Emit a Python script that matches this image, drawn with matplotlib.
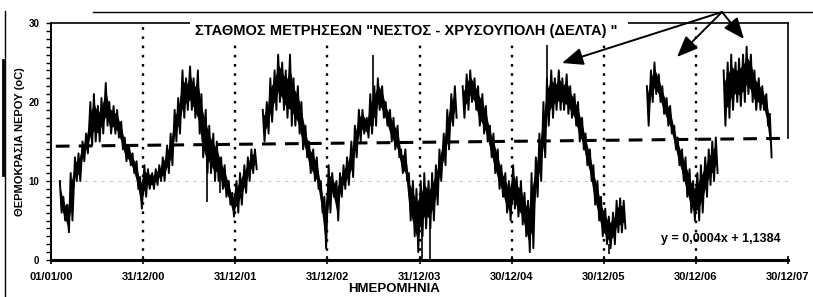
import numpy as np
import pandas as pd
import matplotlib
matplotlib.use("Agg")
import matplotlib.pyplot as plt
from matplotlib.lines import Line2D
from matplotlib.patches import Rectangle

plt.rcParams['font.family'] = ['Liberation Sans', 'DejaVu Sans']
nan = np.nan

# half-monthly (8th / 22nd) low and high of the daily water temperature (oC)
lo_2000 = [nan, nan, 6, 5, 3.5, 5, 10, 10, 12.5, 13.5, 14.5, 15, 15, 16, 17, 16, 16, 15.5, 14, 12.5, 12, 11, 9, 6.5]
hi_2000 = [nan, nan, 10, 8, 7, 11, 13, 13.5, 15, 16, 20, 21, 19.5, 20.5, 22.4, 20, 19.5, 19, 17.5, 15.5, 14.5, 13.5, 12.5, 10.5]
lo_2001 = [8, 9, 9, 9.5, 10, 10, 11, 12, 15, 16, 18, 19, 19, 18, 16, 13, 11, 11, 10, 10, 9, 8, 7, 5.5]
hi_2001 = [12, 11.5, 11, 11.5, 12, 13, 14.5, 16, 19, 20.5, 24, 23, 24.5, 23, 24, 21, 19, 17, 16, 15, 13, 12, 10, 8.5]
lo_2002 = [6, 7, 8.5, 10, 11, 11.5, nan, 15, 16, 17.5, 19, 20, 19, 18, 17, 17, 16, 14, 13, 11, 10, 9, 6, 1.5]
hi_2002 = [10, 11, 12, 13, 14, 14, nan, 19, 20, 23, 24, 26, 25, 24, 26, 23, 22, 20, 17, 15, 14, 13, 10, 8]
lo_2003 = [6, 8, 5, 8, 9, 9.5, 10.5, 13, 15, 16, 15.5, 16, 17, 19, 18, 17, 15, 14, 13, 11, 10, 5, 3, 1]
hi_2003 = [12, 11, 10, 11, 12, 13, 15, 17, 19, 19, 18, 21, 22, 23, 22, 20, 19, 18, 17, 14, 14, 11, 10, 9]
lo_2004 = [3, 4, 4, 5, 7, 10, 12, 14, 17, 18, nan, 18, 19, 20, 19, 17, 16, 15, 13, 11, 9, 8, 6, 5]
hi_2004 = [10, 11, 10, 11, 12, 14, 16, 19, 21, 22, nan, 22, 23.5, 24, 23, 22, 21, 19.5, 17, 16, 14, 12, 11, 10]
lo_2005 = [6.5, 5.5, 4.5, 3, 1, 1.5, 8, 10, 13, 17, 18, 19, 19, 19, 18.5, 18, 17, 15, 14, 12, 10, 7, 5, 3]
hi_2005 = [12, 10.5, 10, 8.5, 7.5, 11, 13, 16, 20, 23, 24, 23, 24, 23, 23.5, 22, 21, 20, 18, 16, 14, 12, 10, 8]
lo_2006 = [2, 1.5, 2, 3.5, 3.5, 4, nan, nan, nan, nan, nan, 17, 20, 21, 20, 18.5, 17, 16, 14, 12, 10, 8, 6, 5]
hi_2006 = [6.5, 5.5, 6, 7.5, 7.8, 7.5, nan, nan, nan, nan, nan, 22, 24, 25, 23.5, 22, 20.5, 19.5, 17, 15.5, 14, 13, 11.5, 10]
lo_2007 = [5, 6, 8, 9.5, 10, 11, nan, 17, 18, 19, 20, 19.5, 20, 21, 20, 19, 19, 19, 17, 13, nan, nan, nan, nan]
hi_2007 = [11, 12, 13, 14, 15, 15.5, nan, 24, 25, 26, 25, 25.5, 26, 27, 26, 24, 23, 22, 21, 18.5, nan, nan, nan, nan]

# isolated spikes of the daily record
spike_dates = ['2001-09-10', '2001-10-30', '2003-07-01', '2004-01-08', '2004-02-10',
               '2005-05-20', '2006-01-20']
spike_base = [15, 12, 17, 5, 5, 20, 2]
spike_tip = [7.4, 8.5, 25.9, 0, 0, 27.2, 0.8]

# linear trend line end points
trend_dates = ['2000-01-20', '2007-12-30']
trend_vals = [14.4, 15.4]

tick_dates = ['2000-01-01', '2000-12-31', '2001-12-31', '2002-12-31', '2003-12-31',
              '2004-12-30', '2005-12-30', '2006-12-30', '2007-12-30']
tick_labels = ['01/01/00', '31/12/00', '31/12/01', '31/12/02', '31/12/03',
               '30/12/04', '30/12/05', '30/12/06', '30/12/07']

title = 'ΣΤΑΘΜΟΣ ΜΕΤΡΗΣΕΩΝ "ΝΕΣΤΟΣ - ΧΡΥΣΟΥΠΟΛΗ (ΔΕΛΤΑ) "'
ylabel = 'ΘΕΡΜΟΚΡΑΣΙΑ ΝΕΡΟΥ (oC)'
xlabel = 'ΗΜΕΡΟΜΗΝΙΑ'
equation = 'y = 0,0004x + 1,1384'

lo = np.concatenate([lo_2000, lo_2001, lo_2002, lo_2003, lo_2004, lo_2005, lo_2006, lo_2007])
hi = np.concatenate([hi_2000, hi_2001, hi_2002, hi_2003, hi_2004, hi_2005, hi_2006, hi_2007])
dates = pd.date_range('2000-01-01', '2007-12-31', freq='SMS') + pd.Timedelta(days=7)

# zig-zag trace between the highs and the lows (imitates the daily noise)
zz_x = np.empty(2 * len(dates), dtype='datetime64[ns]')
zz_x[0::2] = (dates - pd.Timedelta(days=3)).values
zz_x[1::2] = (dates + pd.Timedelta(days=4)).values
zz_y = np.empty(2 * len(dates))
zz_y[0::2] = hi
zz_y[1::2] = lo
core_lo = lo + 0.22 * (hi - lo)
core_hi = hi - 0.22 * (hi - lo)

W, H = 813, 297
fig = plt.figure(figsize=(W / 100, H / 100), dpi=100)
L, R, T, B = 51, 788, 23, 260
ax = fig.add_axes([L / W, 1 - B / H, (R - L) / W, (B - T) / H])

tdates = pd.to_datetime(tick_dates)
ax.set_xlim(tdates[0], tdates[-1])
ax.set_ylim(0, 30)

ax.axhline(10, color='#bdbdbd', lw=0.6, ls=(0, (4, 6)), zorder=0)

for d in tdates[1:-1]:
    ax.plot([d, d], [0, 30], color='black', lw=1.7, ls=(0, (1.1, 2.8)), zorder=1)

ax.fill_between(dates, core_lo, core_hi, color='black', lw=0, zorder=2)
ax.plot(zz_x, zz_y, color='black', lw=1.4, zorder=2)
ax.vlines(pd.to_datetime(spike_dates), spike_base, spike_tip, color='black', lw=1.2, zorder=2)

ax.plot(pd.to_datetime(trend_dates), trend_vals, color='black', lw=2.2,
        ls=(0, (4.5, 3)), zorder=3)

ax.set_yticks([0, 10, 20, 30])
ax.set_yticks(np.arange(0, 31, 1), minor=True)
ax.set_xticks(tdates)
ax.set_xticklabels(tick_labels)
ax.tick_params(axis='y', which='both', direction='out', length=3.5, width=1.0, pad=5,
               labelsize=7)
ax.tick_params(axis='x', which='major', direction='inout', length=6, width=1.2, pad=5.5,
               labelsize=8)
for lab in ax.get_xticklabels() + ax.get_yticklabels():
    lab.set_fontweight('bold')

ax.spines['left'].set_linewidth(1.4)
ax.spines['bottom'].set_linewidth(2.2)
ax.spines['top'].set_linewidth(1.2)
ax.spines['right'].set_linewidth(1.2)
ax.spines['right'].set_bounds(trend_vals[-1], 30)

ax.text(0.99, 0.09, equation, transform=ax.transAxes, ha='right', va='center',
        fontsize=9, fontweight='bold')

# title box covering the top frame
fig.add_artist(Rectangle((190 / W, 1 - 40 / H), 438 / W, 22 / H,
                         transform=fig.transFigure, facecolor='white', edgecolor='none',
                         zorder=4))
fig.text(406 / W, 1 - 31 / H, title, ha='center', va='center', fontsize=10.5,
         fontweight='bold', zorder=5)

fig.text(20 / W, 1 - 142 / H, ylabel, rotation=90, ha='center', va='center',
         fontsize=8, fontweight='bold')
fig.text(394 / W, 1 - 289.5 / H, xlabel, ha='center', va='center', fontsize=9.5,
         fontweight='bold')

# outer frame fragments
fig.add_artist(Line2D([93 / W, 1], [1 - 11.5 / H] * 2, transform=fig.transFigure,
                      color='black', lw=1.0))
fig.add_artist(Line2D([5 / W, 5 / W], [0, 1 - 11 / H], transform=fig.transFigure,
                      color='black', lw=1.0))
fig.add_artist(Line2D([3 / W, 3 / W], [1 - 175 / H, 1 - 60 / H], transform=fig.transFigure,
                      color='black', lw=2.0))

# arrows
src = (722, H - 12)
for tx, ty in [(562, 63), (677, 57), (744, 39)]:
    ax.annotate('', xy=(tx, H - ty), xycoords='figure pixels', xytext=src,
                textcoords='figure pixels',
                arrowprops=dict(arrowstyle='-|>,head_length=0.8,head_width=0.33',
                                color='black', lw=1.4,
                                mutation_scale=16, shrinkA=0, shrinkB=0),
                annotation_clip=False)

fig.savefig('out.png', dpi=100)
